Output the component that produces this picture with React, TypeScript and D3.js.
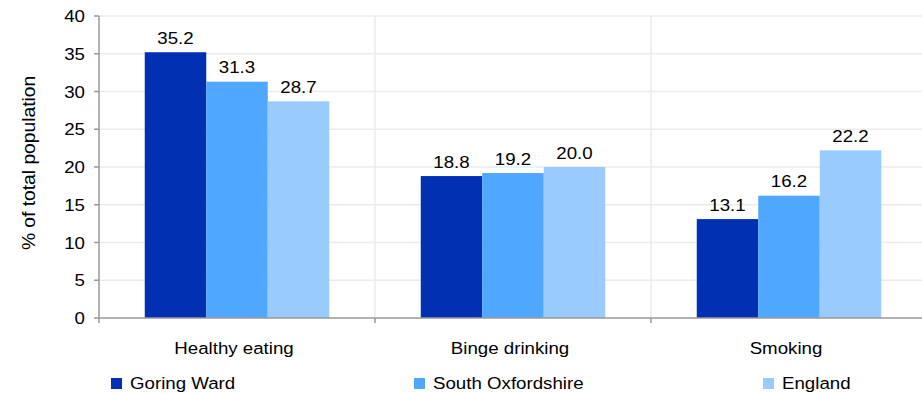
import React from "react";
import * as d3 from "d3";

const categories = ["Healthy eating", "Binge drinking", "Smoking"];
const seriesNames = ["Goring Ward", "South Oxfordshire", "England"];
const goringWard = [35.2, 18.8, 13.1];
const southOxfordshire = [31.3, 19.2, 16.2];
const england = [28.7, 20.0, 22.2];
const yTicks = [0, 5, 10, 15, 20, 25, 30, 35, 40];
const colors = ["#0230b3", "#4fa7ff", "#99cbff"];

const W = 922, H = 394;
const left = 99, right = 927, top = 16, bottom = 318;
const font = "Liberation Sans, Arial, sans-serif";
const FS = 17;
const SX = 1.1;

function T({ x, y, anchor = "start", children }: { x: number; y: number; anchor?: string; children: React.ReactNode }) {
  return (
    <text transform={`translate(${x},${y}) scale(${SX},1)`} textAnchor={anchor as any} fontSize={FS} fill="#000">
      {children}
    </text>
  );
}

export default function App() {
  const series = [goringWard, southOxfordshire, england];
  const x = d3.scaleBand<string>().domain(categories).range([left, right]).paddingInner(0).paddingOuter(0);
  const inner = d3.scaleBand<number>().domain([0, 1, 2]).range([0, x.bandwidth()]).paddingOuter(0.744).paddingInner(0);
  const y = d3.scaleLinear().domain([0, 40]).range([bottom, top]);
  const legendX = [111, 414, 763];

  return (
    <svg width={W} height={H} style={{ position: "absolute", left: 0, top: 0 }} fontFamily={font}>
      <rect width={W} height={H} fill="#fff" />
      {yTicks.filter(t => t > 0).map(t => (
        <line key={t} x1={left} x2={right} y1={y(t)} y2={y(t)} stroke="#ebebeb" strokeWidth={1.5} />
      ))}
      {categories.slice(1).map(c => (
        <line key={c} x1={x(c)} x2={x(c)} y1={top} y2={bottom} stroke="#ebebeb" strokeWidth={1.5} />
      ))}
      {categories.map((c, ci) =>
        series.map((s, si) => (
          <g key={c + si}>
            <rect x={(x(c) as number) + (inner(si) as number)} width={inner.bandwidth()} y={y(s[ci])} height={bottom - y(s[ci])} fill={colors[si]} />
            <T x={(x(c) as number) + (inner(si) as number) + inner.bandwidth() / 2} y={y(s[ci]) - 8.5} anchor="middle">
              {s[ci].toFixed(1)}
            </T>
          </g>
        ))
      )}
      <line x1={left} x2={left} y1={top} y2={bottom + 5} stroke="#999" strokeWidth={1.5} />
      <line x1={left} x2={right} y1={bottom} y2={bottom} stroke="#999" strokeWidth={1.5} />
      {yTicks.map(t => (
        <g key={t}>
          <line x1={left - 5} x2={left} y1={y(t)} y2={y(t)} stroke="#999" strokeWidth={1.5} />
          <T x={85} y={y(t) + 6} anchor="end">{t}</T>
        </g>
      ))}
      {categories.slice(1).map(c => (
        <line key={c} x1={x(c)} x2={x(c)} y1={bottom} y2={bottom + 5} stroke="#999" strokeWidth={1.5} />
      ))}
      {categories.map(c => (
        <T key={c} x={(x(c) as number) + x.bandwidth() / 2 - 3} y={354} anchor="middle">{c}</T>
      ))}
      <text transform={`translate(35,${163}) rotate(-90) scale(1.1,1)`} textAnchor="middle" fontSize={17.5} fill="#000">% of total population</text>
      {seriesNames.map((n, i) => (
        <g key={n}>
          <rect x={legendX[i]} y={378} width={11} height={11} fill={colors[i]} />
          <T x={legendX[i] + 19} y={389}>{n}</T>
        </g>
      ))}
    </svg>
  );
}
